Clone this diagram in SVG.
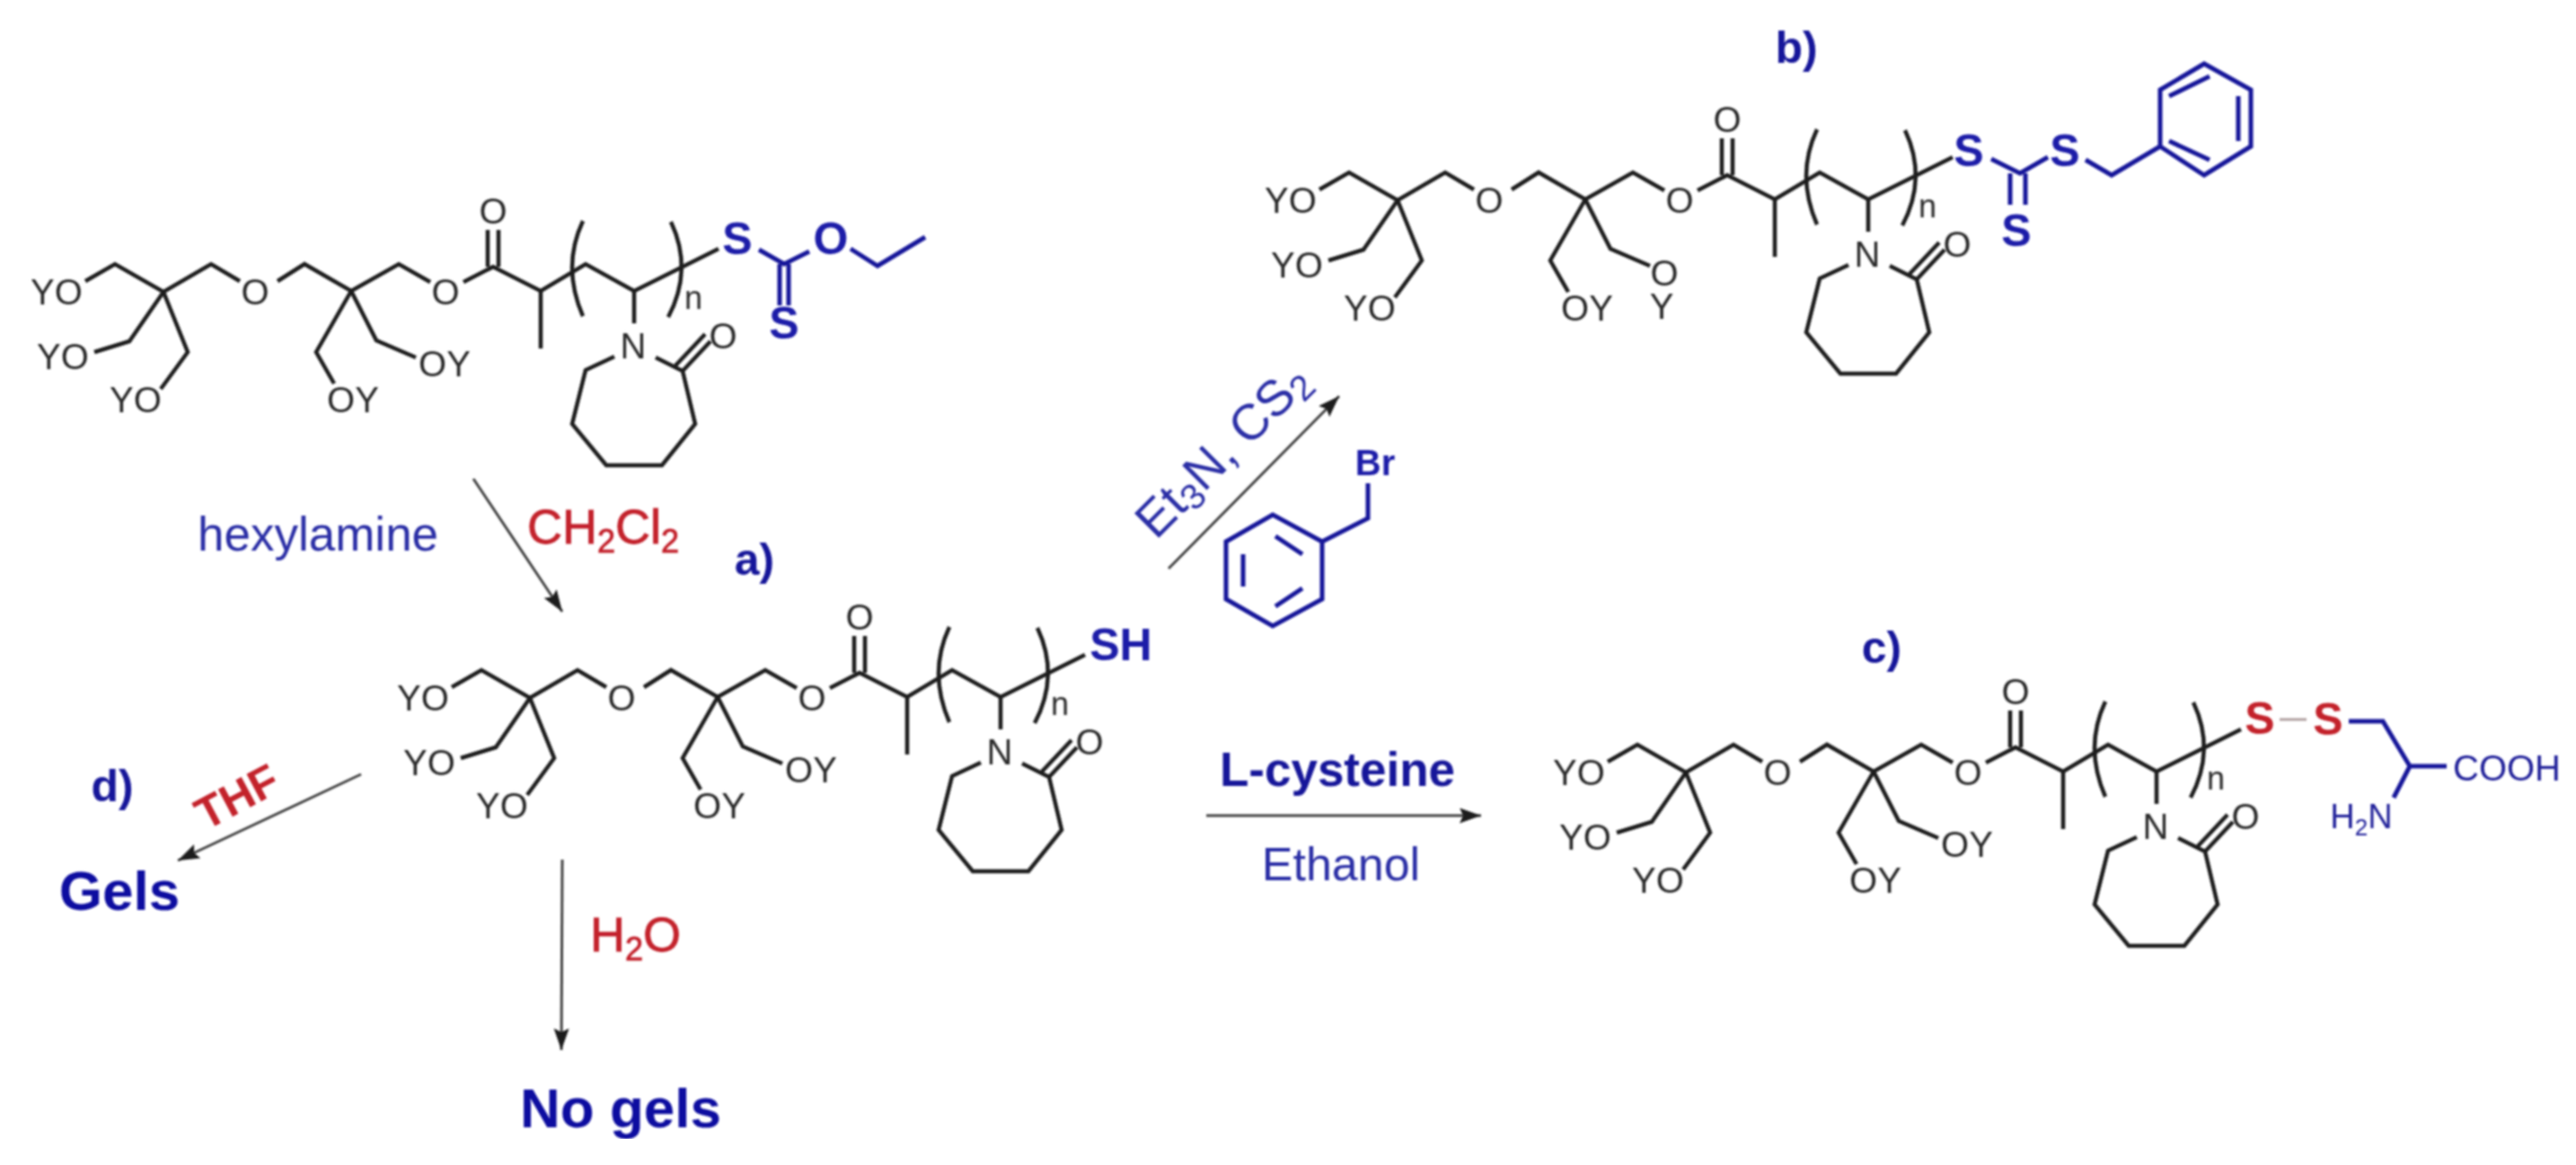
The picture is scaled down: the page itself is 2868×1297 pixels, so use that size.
<svg xmlns="http://www.w3.org/2000/svg" width="2868" height="1297" viewBox="0 0 2868 1297">
<style>
text{font-family:"Liberation Sans",Arial,sans-serif}
.k{fill:none;stroke:#1f1f1f;stroke-width:4.5}
.b{fill:none;stroke:#14149a;stroke-width:5}
.r{fill:none;stroke:#b0a0a0;stroke-width:3}
.at{font-size:40px;fill:#2a2a2a;text-anchor:middle}
.s{font-size:50px;font-weight:bold;fill:#1a1aa8;text-anchor:middle}
.sr{font-size:50px;font-weight:bold;fill:#c3202a;text-anchor:middle}
.n{font-size:36px;fill:#2a2a2a;text-anchor:middle}
.lab{font-size:50px;font-weight:bold;fill:#14149a;text-anchor:middle}
.big{font-size:62px;font-weight:bold;fill:#0f0fa0;text-anchor:middle}
.red{font-size:54px;fill:#c3202a;stroke:#c3202a;stroke-width:.8}
.blu{font-size:53px;fill:#2b2fa6}
.ar{fill:none;stroke:#444;stroke-width:3}
</style>
<defs>
<filter id="soft" x="0" y="0" width="100%" height="100%"><feGaussianBlur stdDeviation="0.9"/></filter>
<marker id="ah" markerUnits="userSpaceOnUse" markerWidth="28" markerHeight="20" refX="24" refY="8.5" orient="auto"><path d="M0 0L24 8.5L0 17L4 8.5Z" fill="#1a1a1a"/></marker>
<g id="backbone">
<path class="k" d="M95 313L128 294L182 325L235 294L267 313M309 313L339 294L391 324L444 294L479 314M516 314L549 297L602 324L652 294L706 324L760 297L800 277"/>
<path class="k" d="M182 325L144 380L105 392M182 325L209 392L179 433M391 324L352 392L372 427M391 324L419 379L463 398"/>
<path class="k" d="M543 297V256M555 297V256M602 324V388M706 324V360"/>
<path class="k" d="M649 246Q625 297 649 352M747 247Q772 300 744 353"/>
<path class="k" d="M684 397L652 412L637 472L675 518H737L774 472L760 413L730 398M760 413L791 380M752 407L785 372"/>
<text class="at" x="63" y="339">YO</text><text class="at" x="70" y="411">YO</text><text class="at" x="151" y="459">YO</text>
<text class="at" x="284" y="339">O</text><text class="at" x="496" y="339">O</text><text class="at" x="549" y="249">O</text>
<text class="at" x="393" y="459">OY</text>
<text class="at" x="705" y="399">N</text><text class="at" x="805" y="388">O</text><text class="n" x="772" y="344">n</text>
</g>
<text id="oy" class="at" x="495" y="419">OY</text>
</defs>

<g filter="url(#soft)">
<g id="mol-xanthate">
<use href="#backbone"/><use href="#oy"/>
<path class="b" stroke-width="4" d="M845 278L873 294L901 280M947 277L977 296L1030 264"/>
<path class="b" d="M868 294V340M878 294V340"/>
<text class="s" x="821" y="283">S</text><text class="s" x="925" y="283" font-weight="normal">O</text><text class="s" x="873" y="377">S</text>
</g>

<g id="mol-thiol" transform="translate(408,452)">
<use href="#backbone"/><use href="#oy"/>
<text class="s" x="840" y="283">SH</text>
</g>

<g id="mol-trithiocarbonate" transform="translate(1374,-102)">
<use href="#backbone"/>
<text class="at" x="479" y="420">O</text>
<text class="at" x="476" y="457">Y</text>
<path class="b" d="M843 279L875 295L906 277M948 280L977 297L1031 265V202L1080 173L1132 202V265L1080 297L1031 265"/>
<path class="b" stroke-width="4" d="M1041 209L1086 187M1118 209V259M1041 259L1086 280"/>
<path class="b" d="M864 295V330M881 295V330"/>
<text class="s" x="818" y="287">S</text><text class="s" x="925" y="287">S</text><text class="s" x="871" y="376">S</text>
</g>

<g id="mol-disulfide" transform="translate(1695,535)">
<use href="#backbone"/><use href="#oy"/>
<path class="r" d="M843 266H873"/>
<path class="b" stroke-width="4" d="M920 268H958L988 318H1029M988 318L970 353"/>
<text class="sr" x="821" y="282">S</text><text class="sr" x="897" y="283">S</text>
<text x="1096" y="334" style="font-size:40px;fill:#20209a;text-anchor:middle">COOH</text>
<text x="934" y="387" style="font-size:38px;fill:#20209a;text-anchor:middle">H<tspan dy="8" font-size="26">2</tspan><tspan dy="-8">N</tspan></text>
</g>

<g id="benzyl-bromide">
<path class="b" d="M1472 603L1417 573L1365 603V667L1417 697L1472 667ZM1472 603L1523 577V538"/>
<path class="b" stroke-width="4" d="M1420 597L1450 617M1384 617V653M1420 675L1450 655"/>
<text x="1531" y="529" style="font-size:40px;font-weight:bold;fill:#1a1aa8;text-anchor:middle">Br</text>
</g>

<g id="connectors">
<path class="ar" marker-end="url(#ah)" d="M527 533L626 681"/>
<path class="ar" marker-end="url(#ah)" d="M402 862L198 958"/>
<path class="ar" marker-end="url(#ah)" d="M626 957L625 1169"/>
<path class="ar" marker-end="url(#ah)" d="M1301 633L1491 441"/>
<path class="ar" marker-end="url(#ah)" d="M1343 908H1649"/>
</g>

<g id="labels">
<text class="lab" x="2000" y="70">b)</text>
<text class="lab" x="840" y="640">a)</text>
<text class="lab" x="125" y="892">d)</text>
<text class="lab" x="2095" y="738">c)</text>
<text class="big" x="133" y="1013">Gels</text>
<text class="big" x="691" y="1255">No gels</text>
<text class="blu" x="220" y="613">hexylamine</text>
<text class="red" x="587" y="605">CH<tspan dy="10" font-size="36">2</tspan><tspan dy="-10">Cl</tspan><tspan dy="10" font-size="36">2</tspan></text>
<text class="red" x="657" y="1059">H<tspan dy="10" font-size="36">2</tspan><tspan dy="-10">O</tspan></text>
<text class="red" transform="translate(229 925) rotate(-28)" style="font-size:50px;font-weight:bold;stroke:none">THF</text>
<text class="blu" transform="translate(1287 602) rotate(-45)" style="font-size:56px">Et<tspan dy="8" font-size="40">3</tspan><tspan dy="-8">N, CS</tspan><tspan dy="8" font-size="40">2</tspan></text>
<text x="1489" y="875" style="font-size:53px;font-weight:bold;fill:#14149a;text-anchor:middle">L-cysteine</text>
<text x="1493" y="980" style="font-size:52px;fill:#2b2fa6;text-anchor:middle">Ethanol</text>
</g>
</g>
</svg>
